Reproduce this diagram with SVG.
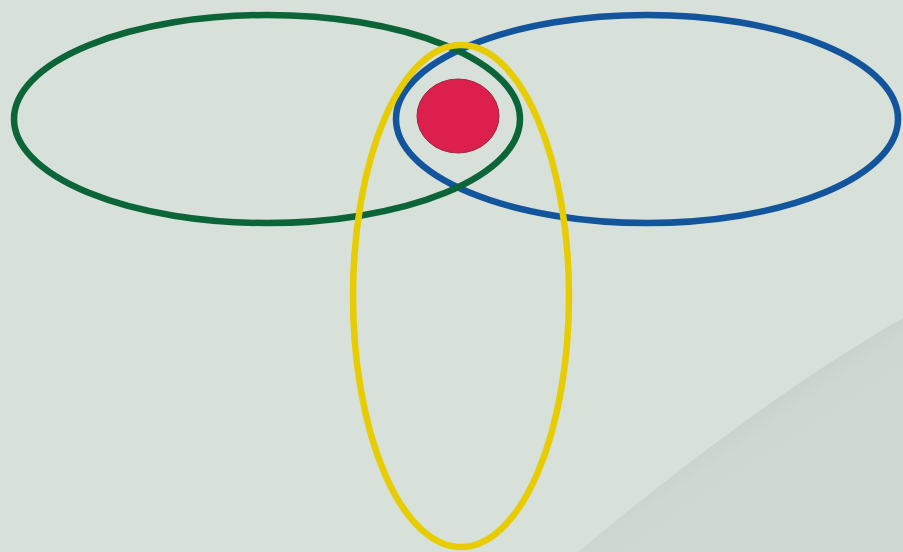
<svg xmlns="http://www.w3.org/2000/svg" width="903" height="552" viewBox="0 0 903 552">
<defs>
<linearGradient id="sh" gradientUnits="userSpaceOnUse" x1="740" y1="410" x2="800" y2="500">
<stop offset="0" stop-color="#c8d0ca"/>
<stop offset="0.3" stop-color="#cfd7d1"/>
<stop offset="1" stop-color="#d1d9d3"/>
</linearGradient>
<style>
.ring{fill:none;stroke-width:6.5}
</style>
</defs>
<rect width="903" height="552" fill="#d8e0da"/>
<path d="M903,318 Q760,400 578,552 L903,552 Z" fill="url(#sh)"/>
<g id="blue"><ellipse class="ring" cx="647" cy="119" rx="251" ry="104" stroke="#12559c"/></g>
<g id="green"><ellipse class="ring" cx="267" cy="119" rx="253" ry="104" stroke="#0b6538"/></g>
<g id="yellow"><ellipse class="ring" cx="461" cy="296" rx="108" ry="251" stroke="#e6cc00"/></g>
<g id="red"><ellipse cx="458" cy="116" rx="41" ry="37" fill="#dc1f4c" stroke="#9b2a3e" stroke-width="1"/></g>
</svg>
